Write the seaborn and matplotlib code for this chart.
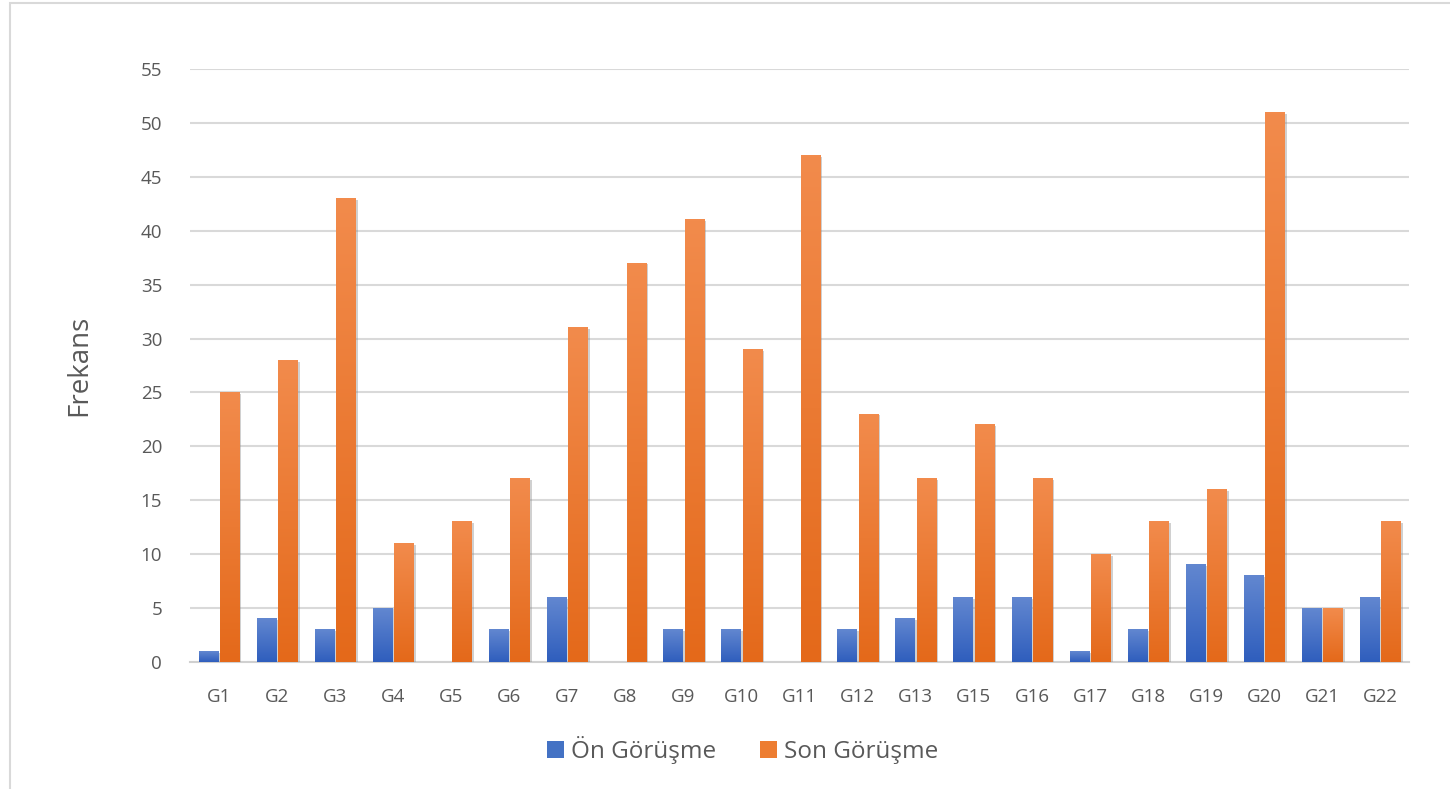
import numpy as np
import pandas as pd
import matplotlib
matplotlib.use("Agg")
import matplotlib.pyplot as plt
import matplotlib.patheffects as pe
from matplotlib.patches import Patch, Rectangle
from matplotlib.colors import to_rgb
import seaborn as sns

categories = ["G1", "G2", "G3", "G4", "G5", "G6", "G7", "G8", "G9", "G10", "G11",
              "G12", "G13", "G15", "G16", "G17", "G18", "G19", "G20", "G21", "G22"]
on_gorusme = [1, 4, 3, 5, 0, 3, 6, 0, 3, 3, 0, 3, 4, 6, 6, 1, 3, 9, 8, 5, 6]
son_gorusme = [25, 28, 43, 11, 13, 17, 31, 37, 41, 29, 47, 23, 17, 22, 17, 10, 13, 16, 51, 5, 13]
series_names = ["Ön Görüşme", "Son Görüşme"]
y_ticks = list(range(0, 56, 5))

df = pd.DataFrame({
    "Grup": categories * 2,
    "Frekans": on_gorusme + son_gorusme,
    "Seri": [series_names[0]] * len(categories) + [series_names[1]] * len(categories),
})

base_colors = {"Ön Görüşme": "#4472C4", "Son Görüşme": "#ED7D31"}
# top / bottom colours of the vertical gradient fill
grad_colors = {
    "Ön Görüşme": ("#6287D0", "#2F5EBD"),
    "Son Görüşme": ("#F28B4C", "#E4691A"),
}

sns.set_theme(style="white")
plt.rcParams["font.family"] = ["Open Sans", "DejaVu Sans"]
text_color = "#595959"

fig = plt.figure(figsize=(14.5, 7.89), dpi=100)
ax = fig.add_axes([0.131, 0.161, 0.841, 0.7515])

sns.barplot(data=df, x="Grup", y="Frekans", hue="Seri", order=categories,
            hue_order=series_names, palette=base_colors, width=0.74, gap=0.1,
            legend=False, ax=ax, zorder=3)

# replace flat fills with vertical gradients and a soft shadow
n = len(categories)
for i, patch in enumerate(ax.patches[: 2 * n]):
    name = series_names[i // n]
    h = patch.get_height()
    if h <= 0:
        patch.set_visible(False)
        continue
    x0 = patch.get_x()
    w = patch.get_width()
    top, bot = (np.array(to_rgb(c)) for c in grad_colors[name])
    t = np.linspace(0, 1, 128)[:, None]
    grad = (top * (1 - t) + bot * t)[:, None, :]
    ax.imshow(grad, extent=[x0, x0 + w, 0, h], aspect="auto", zorder=4,
              interpolation="bilinear")
    patch.set_edgecolor("none")
    patch.set_path_effects([pe.SimplePatchShadow(offset=(1.5, -1.0),
                                                 shadow_rgbFace="#8a8a8a",
                                                 alpha=0.4),
                            pe.Normal()])

ax.set_xlim(-0.5, n - 0.5)
ax.set_ylim(0, 55)
ax.set_yticks(y_ticks)
ax.yaxis.grid(True, color="#D9D9D9", linewidth=1.5, zorder=0)
ax.set_axisbelow(True)
for s in ["top", "right", "left"]:
    ax.spines[s].set_visible(False)
ax.spines["bottom"].set_color("#D0D0D0")
ax.spines["bottom"].set_linewidth(1.5)
ax.tick_params(axis="both", length=0, colors=text_color, labelsize=13.5)
ax.tick_params(axis="y", pad=20)
ax.tick_params(axis="x", pad=19)
ax.set_xlabel("")
ax.set_ylabel("Frekans", fontsize=20, color=text_color, labelpad=34)

handles = [Patch(facecolor=base_colors[s], edgecolor="none", label=s) for s in series_names]
fig.legend(handles=handles, loc="center", bbox_to_anchor=(0.512, 0.049), ncol=2,
           frameon=False, fontsize=17.5, labelcolor=text_color, handlelength=0.7,
           handleheight=0.7, handletextpad=0.3, columnspacing=1.8)

fig.patches.append(Rectangle((0.007, -0.1), 2.0, 1.096, transform=fig.transFigure,
                             fill=False, edgecolor="#D9D9D9", linewidth=1.5))

fig.savefig("out.png", dpi=100)
